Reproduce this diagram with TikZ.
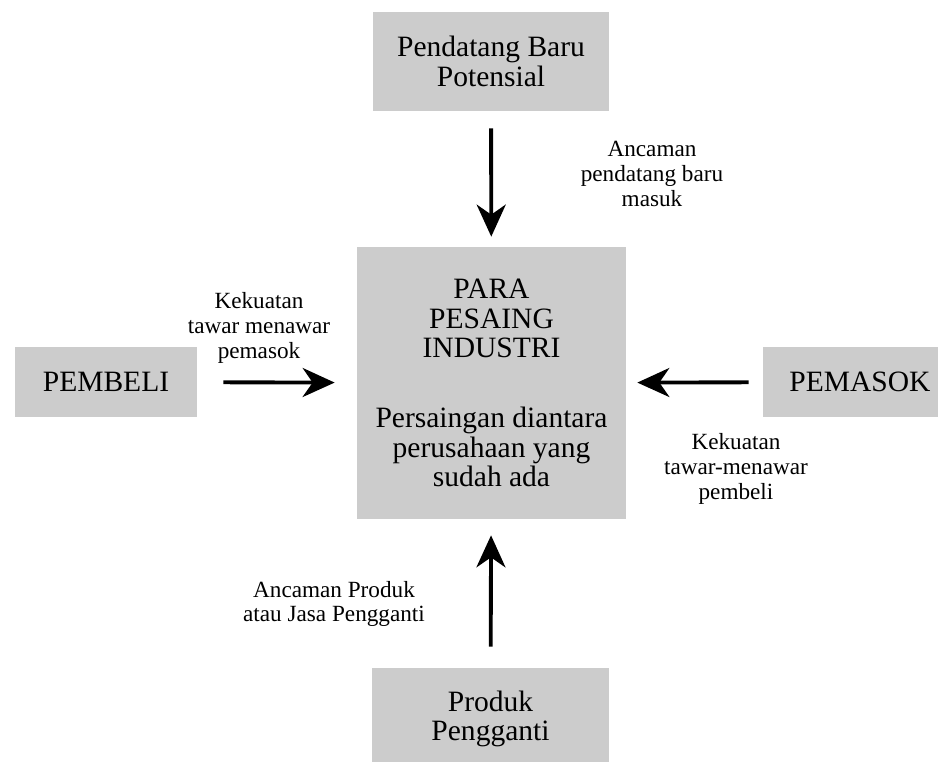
\documentclass[tikz,border=0pt]{standalone}
\usepackage{fontspec}
\setmainfont{Liberation Serif}
\usepackage{xcolor}
\usepackage{tikz}
\usetikzlibrary{arrows.meta,positioning}

\begin{document}
\begin{tikzpicture}[
  box/.style={fill=black!20,align=center,inner sep=0pt,font=\fontsize{16.8pt}{16.8pt}\selectfont},
  lbl/.style={align=center,font=\fontsize{13.2pt}{14pt}\selectfont},
  flow/.style={-{Stealth[length=0.64cm,width=0.58cm,inset=0.2cm]},line width=2.2pt}]
  \useasboundingbox (0,0) rectangle (18.76,15.24);
  % the five forces
  \node[box,minimum width=5.38cm,minimum height=5.44cm] (rival) at (9.83,7.58)
    {PARA\\PESAING\\INDUSTRI\\[23pt]Persaingan diantara\\perusahaan yang\\sudah ada};
  \node[box,minimum width=4.72cm,minimum height=1.98cm] (newent) at (9.82,14.01) {Pendatang Baru\\Potensial};
  \node[box,minimum width=3.64cm,minimum height=1.4cm] (buyer) at (2.12,7.6) {PEMBELI};
  \node[box,minimum width=3.88cm,minimum height=1.4cm] (supplier) at (17.2,7.6) {PEMASOK};
  \node[box,minimum width=4.74cm,minimum height=2.04cm] (subst) at (9.81,0.86) {Produk\\Pengganti};
  % arrows into the industry
  \draw[flow,shorten <=0.34cm,shorten >=0.2cm] (newent) -- (rival);
  \draw[flow,shorten <=0.42cm,shorten >=0.32cm] (subst) -- (rival);
  \draw[flow,shorten <=0.52cm,shorten >=0.44cm] (buyer) -- (rival);
  \draw[flow,shorten <=0.28cm,shorten >=0.22cm] (supplier) -- (rival);
  % labels
  \node[lbl] (lblnew) at (13.04,11.76) {Ancaman\\pendatang baru\\masuk};
  \node[lbl] (lblbuy) at (5.18,8.68) {Kekuatan\\tawar menawar\\pemasok};
  \node[lbl] (lblsup) at (14.72,5.86) {Kekuatan\\tawar-menawar\\pembeli};
  \node[lbl] (lblsub) at (6.68,3.16) {Ancaman Produk\\atau Jasa Pengganti};
\end{tikzpicture}
\end{document}
